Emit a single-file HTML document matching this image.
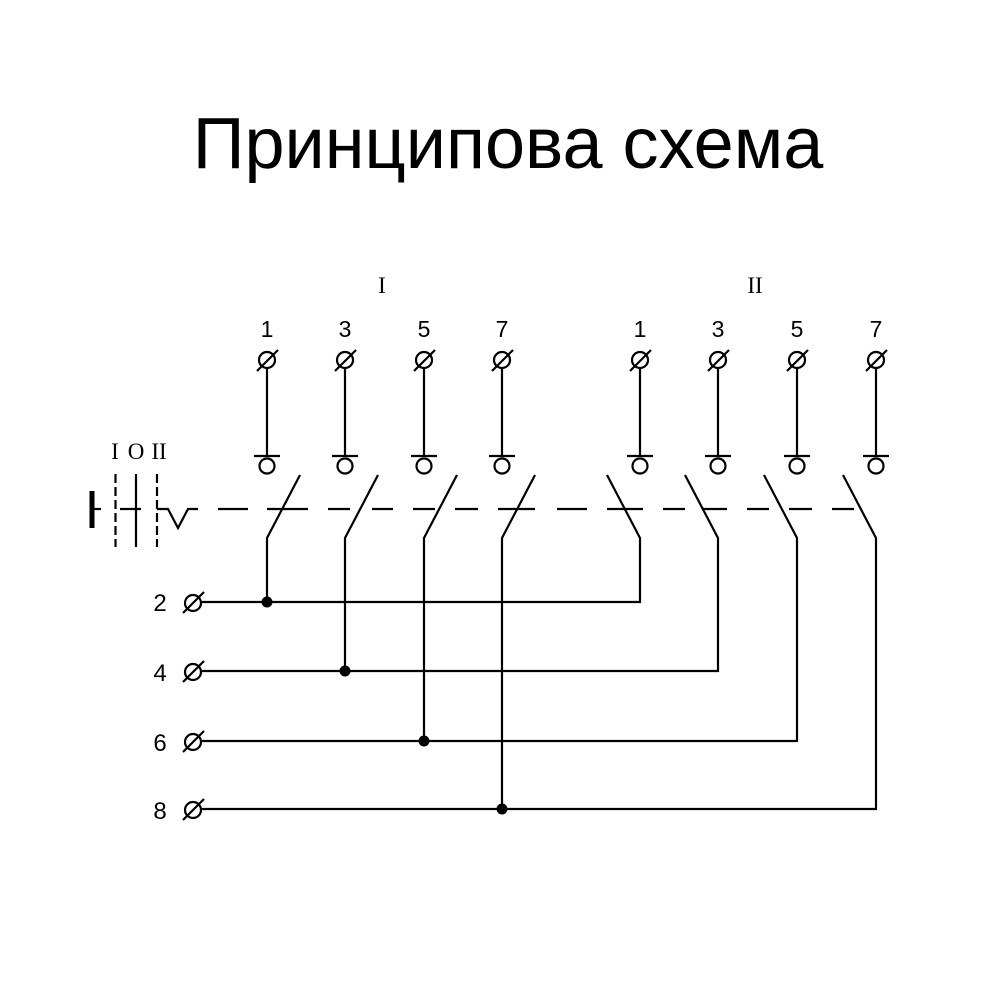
<!DOCTYPE html>
<html>
<head>
<meta charset="utf-8">
<style>
  html, body { margin: 0; padding: 0; background: #fff; }
  svg { display: block; }
</style>
</head>
<body>
<svg width="1000" height="1000" viewBox="0 0 1000 1000" xmlns="http://www.w3.org/2000/svg">
  <rect width="1000" height="1000" fill="#fff"/>
  <!-- Title -->
  <text x="508" y="168" font-family="'Liberation Sans', Arial, sans-serif" font-size="72" text-anchor="middle" fill="#000">Принципова схема</text>

  <!-- Group headers -->
  <g font-family="'Liberation Serif', 'Times New Roman', serif" font-size="23" fill="#000" text-anchor="middle">
    <text x="382" y="293">I</text>
    <text x="755" y="293">II</text>
    <text x="115" y="459">I</text>
    <text x="136" y="459">O</text>
    <text x="159" y="459">II</text>
  </g>

  <!-- Top numbers -->
  <g font-family="'Liberation Sans', Arial, sans-serif" font-size="23" fill="#000" text-anchor="middle">
    <text x="267" y="337">1</text>
    <text x="345" y="337">3</text>
    <text x="424" y="337">5</text>
    <text x="502" y="337">7</text>
    <text x="640" y="337">1</text>
    <text x="718" y="337">3</text>
    <text x="797" y="337">5</text>
    <text x="876" y="337">7</text>
  </g>

  <!-- Left numbers -->
  <g font-family="'Liberation Sans', Arial, sans-serif" font-size="24" fill="#000" text-anchor="middle">
    <text x="160" y="611">2</text>
    <text x="160" y="681">4</text>
    <text x="160" y="751">6</text>
    <text x="160" y="819">8</text>
  </g>

  <g stroke="#000" stroke-width="2.2" fill="none" stroke-linecap="butt">
    <g transform="translate(267,0)">
      <circle cx="0" cy="360" r="8"/><line x1="-10" y1="371" x2="11" y2="350"/>
      <line x1="0" y1="368" x2="0" y2="456"/><line x1="-13" y1="456" x2="13" y2="456"/>
      <circle cx="0" cy="466" r="7.5"/>
    </g>
    <g transform="translate(345,0)">
      <circle cx="0" cy="360" r="8"/><line x1="-10" y1="371" x2="11" y2="350"/>
      <line x1="0" y1="368" x2="0" y2="456"/><line x1="-13" y1="456" x2="13" y2="456"/>
      <circle cx="0" cy="466" r="7.5"/>
    </g>
    <g transform="translate(424,0)">
      <circle cx="0" cy="360" r="8"/><line x1="-10" y1="371" x2="11" y2="350"/>
      <line x1="0" y1="368" x2="0" y2="456"/><line x1="-13" y1="456" x2="13" y2="456"/>
      <circle cx="0" cy="466" r="7.5"/>
    </g>
    <g transform="translate(502,0)">
      <circle cx="0" cy="360" r="8"/><line x1="-10" y1="371" x2="11" y2="350"/>
      <line x1="0" y1="368" x2="0" y2="456"/><line x1="-13" y1="456" x2="13" y2="456"/>
      <circle cx="0" cy="466" r="7.5"/>
    </g>
    <g transform="translate(640,0)">
      <circle cx="0" cy="360" r="8"/><line x1="-10" y1="371" x2="11" y2="350"/>
      <line x1="0" y1="368" x2="0" y2="456"/><line x1="-13" y1="456" x2="13" y2="456"/>
      <circle cx="0" cy="466" r="7.5"/>
    </g>
    <g transform="translate(718,0)">
      <circle cx="0" cy="360" r="8"/><line x1="-10" y1="371" x2="11" y2="350"/>
      <line x1="0" y1="368" x2="0" y2="456"/><line x1="-13" y1="456" x2="13" y2="456"/>
      <circle cx="0" cy="466" r="7.5"/>
    </g>
    <g transform="translate(797,0)">
      <circle cx="0" cy="360" r="8"/><line x1="-10" y1="371" x2="11" y2="350"/>
      <line x1="0" y1="368" x2="0" y2="456"/><line x1="-13" y1="456" x2="13" y2="456"/>
      <circle cx="0" cy="466" r="7.5"/>
    </g>
    <g transform="translate(876,0)">
      <circle cx="0" cy="360" r="8"/><line x1="-10" y1="371" x2="11" y2="350"/>
      <line x1="0" y1="368" x2="0" y2="456"/><line x1="-13" y1="456" x2="13" y2="456"/>
      <circle cx="0" cy="466" r="7.5"/>
    </g>

    <!-- Switches group I -->
    <polyline points="300,475 267,538 267,602"/>
    <polyline points="378,475 345,538 345,671"/>
    <polyline points="457,475 424,538 424,741"/>
    <polyline points="535,475 502,538 502,809"/>

    <!-- Switches group II with bus returns -->
    <polyline points="607,475 640,538 640,602 202,602"/>
    <polyline points="685,475 718,538 718,671 202,671"/>
    <polyline points="764,475 797,538 797,741 202,741"/>
    <polyline points="843,475 876,538 876,809 202,809"/>

    <!-- Dashed mechanical link -->
    <line x1="218" y1="509" x2="248" y2="509"/>
    <line x1="267" y1="509" x2="308" y2="509"/>
    <line x1="328" y1="509" x2="350" y2="509"/>
    <line x1="372" y1="509" x2="393" y2="509"/>
    <line x1="413" y1="509" x2="435" y2="509"/>
    <line x1="455" y1="509" x2="478" y2="509"/>
    <line x1="498" y1="509" x2="535" y2="509"/>
    <line x1="557" y1="509" x2="587" y2="509"/>
    <line x1="607" y1="509" x2="643" y2="509"/>
    <line x1="663" y1="509" x2="685" y2="509"/>
    <line x1="702" y1="509" x2="727" y2="509"/>
    <line x1="747" y1="509" x2="769" y2="509"/>
    <line x1="789" y1="509" x2="812" y2="509"/>
    <line x1="832" y1="509" x2="854" y2="509"/>

    <!-- Left handle symbol -->
    <line x1="94" y1="509" x2="101" y2="509"/>
    <line x1="115.5" y1="474" x2="115.5" y2="547" stroke-dasharray="9 4"/>
    <line x1="120" y1="509" x2="141" y2="509"/>
    <line x1="136" y1="474" x2="136" y2="547"/>
    <line x1="157" y1="474" x2="157" y2="547" stroke-dasharray="9 4"/>
    <polyline points="157,509 168,509 178,528 188,509 198,509"/>

    <!-- Left terminals -->
    <circle cx="193" cy="603" r="8"/><line x1="183" y1="613" x2="204" y2="592"/>
    <circle cx="193" cy="672" r="8"/><line x1="183" y1="682" x2="204" y2="661"/>
    <circle cx="193" cy="742" r="8"/><line x1="183" y1="752" x2="204" y2="731"/>
    <circle cx="193" cy="810" r="8"/><line x1="183" y1="820" x2="204" y2="799"/>
  </g>

  <!-- Handle bar -->
  <rect x="89.5" y="491" width="5" height="37" fill="#000"/>

  <!-- Junction dots -->
  <g fill="#000">
    <circle cx="267" cy="602" r="5.5"/>
    <circle cx="345" cy="671" r="5.5"/>
    <circle cx="424" cy="741" r="5.5"/>
    <circle cx="502" cy="809" r="5.5"/>
  </g>
</svg>
</body>
</html>
